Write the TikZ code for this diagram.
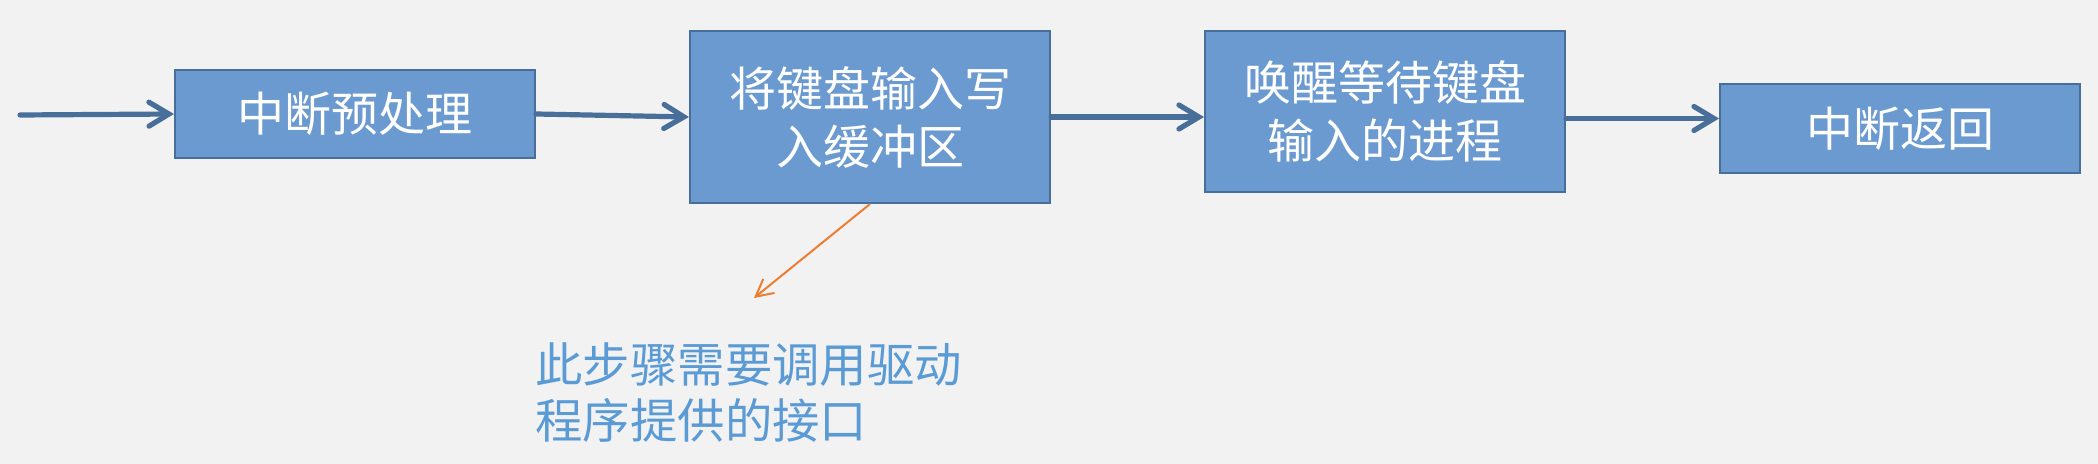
\documentclass[tikz,border=0pt]{standalone}
\usepackage{fontspec}
\setmainfont{Noto Sans CJK SC}
\usetikzlibrary{positioning, arrows.meta}
\definecolor{boxfill}{RGB}{106,154,208}
\definecolor{boxline}{RGB}{72,110,154}
\definecolor{notecol}{RGB}{237,125,49}
\definecolor{remarkcol}{RGB}{91,155,213}
\definecolor{paper}{RGB}{242,242,242}

\begin{document}
\begin{tikzpicture}[x=0.5pt, y=-0.5pt, node distance=76.5pt,
    stepbox/.style = {draw=boxline, fill=boxfill, line width=1pt, text=white,
                      minimum width=180pt, align=center, inner sep=0pt,
                      font=\fontsize{23.5}{29}\selectfont},
    flow/.style = {draw=boxline, line width=2.6pt, line cap=round,
                   -{Straight Barb[length=10pt, width=12pt, line cap=round]}},
    note/.style = {draw=notecol, line width=1pt,
                   -{Straight Barb[length=8.5pt, width=9pt]}},
    remark/.style = {text=remarkcol, align=left, inner sep=0pt,
                     font=\fontsize{23.7}{28}\selectfont}]

    \fill [paper] (0,0) rectangle (2098,464);
    \useasboundingbox (0,0) rectangle (2098,464);

    % Boxes
    \node [stepbox, minimum height=44pt] (pre) at (355,114) {中断预处理};
    \node [stepbox, minimum height=86pt, right=of pre, yshift=-1.5pt] (write) {将键盘输入写\\入缓冲区};
    \node [stepbox, minimum height=80.5pt, right=of write, yshift=2.75pt] (wake) {唤醒等待键盘\\输入的进程};
    \node [stepbox, minimum height=44.5pt, right=of wake, yshift=-8.5pt] (ret) {中断返回};

    % Arrows
    \coordinate (in) at (20,115);
    \draw [flow] (in) -- (pre.west);
    \draw [flow] (pre.east) -- (write.west);
    \draw [flow] (write.east) -- (write.east -| wake.west);
    \draw [flow] ([yshift=-3.5pt]wake.east) -- ([yshift=-3.5pt]wake.east -| ret.west);

    % Remark
    \coordinate (tip) at (754,298);
    \draw [note] (write.south) -- (tip);
    \node [remark, anchor=north west] (hint) at (535,342) {此步骤需要调用驱动\\程序提供的接口};
\end{tikzpicture}
\end{document}
